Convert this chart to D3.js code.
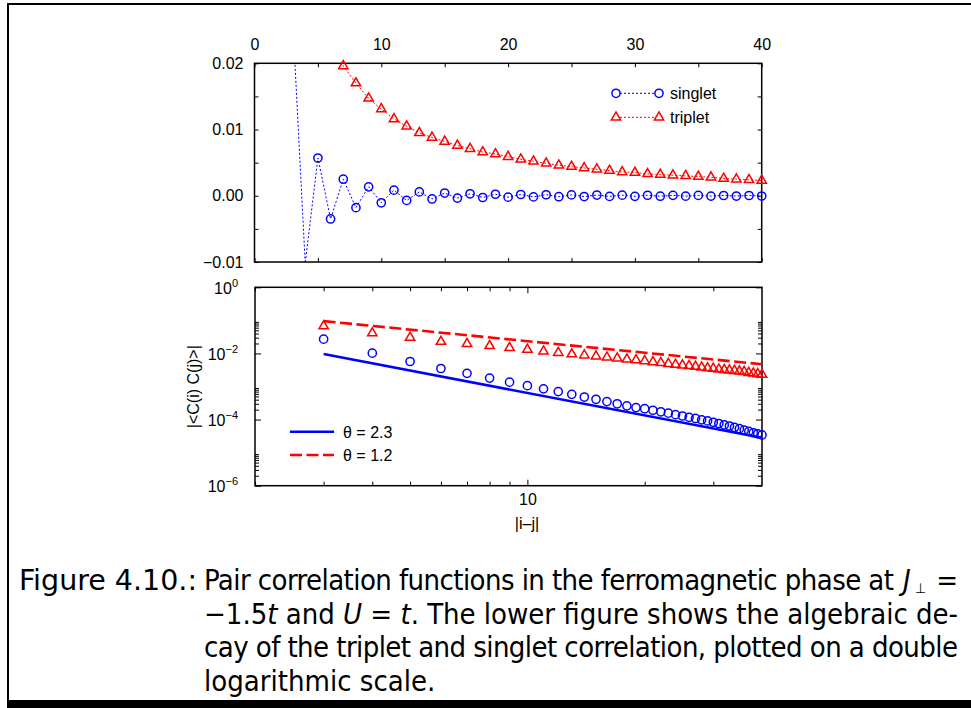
<!DOCTYPE html>
<html>
  <head>
    <meta charset="utf-8">
    <title>Pair correlation functions</title>
    <script src="https://d3js.org/d3.v7.min.js"></script>
    <style>
      body { margin: 0; background: #fff; }
      svg { display: block; }
      .plot text { font-family: "Liberation Sans", Arial, sans-serif; font-size: 16px; fill: #000; }
      .caption { font-family: "DejaVu Sans Condensed", "DejaVu Sans", sans-serif; font-stretch: condensed; font-size: 29px; white-space: pre; }
    </style>
  </head>
  <body>
    <svg></svg>
    <script>
      // distance |i-j|
      var dist = [3, 4, 5, 6, 7, 8, 9, 10, 11, 12, 13, 14, 15, 16, 17, 18, 19, 20, 21,
                  22, 23, 24, 25, 26, 27, 28, 29, 30, 31, 32, 33, 34, 35, 36, 37, 38, 39, 40];

      // singlet correlation (signed)
      var singlet = [0.0270, -0.0102, 0.0057, -0.0035, 0.0025, -0.0018, 0.00135, -0.00106,
                     0.00085, -0.00070, 0.00058, -0.00048, 0.00041, -0.00035, 0.00030, -0.00026,
                     0.00023, -0.000213, 0.000191, -0.000172, 0.000156, -0.000141, 0.000128,
                     -0.000117, 0.000108, -0.000098, 0.000091, -0.000083, 0.000076, -0.000069,
                     0.000064, -0.000058, 0.000053, -0.000048, 0.000044, -0.000040, 0.000037,
                     -0.0000342];

      // triplet correlation
      var triplet = [0.067, 0.041, 0.030, 0.0227, 0.0196, 0.0170, 0.0147, 0.0131, 0.0116,
                     0.0105, 0.0095, 0.0088, 0.0082, 0.0076, 0.0071, 0.0066, 0.0063, 0.0059,
                     0.0055, 0.0052, 0.0049, 0.0046, 0.0044, 0.0042, 0.0040, 0.0038, 0.0036,
                     0.0035, 0.0033, 0.0032, 0.0031, 0.0030, 0.0029, 0.0028, 0.0026, 0.0025,
                     0.0024, 0.0023];

      // power law guides, end points [x, y]
      var fit23 = [[3, 0.0096], [40, 0.000028]];
      var fit12 = [[3, 0.095], [40, 0.0047]];

      // ticks
      var topXTicks = [0, 5, 10, 15, 20, 25, 30, 35, 40];
      var topXLabels = [0, 10, 20, 30, 40];
      var topYTicks = [-0.01, -0.005, 0, 0.005, 0.01, 0.015, 0.02];
      var topYLabels = [-0.01, 0, 0.01, 0.02];
      var logXMajor = [10];
      var logXMinor = [2, 3, 4, 5, 6, 7, 8, 9, 20, 30];
      var logYMajor = [1e-6, 1e-4, 1e-2, 1];
      var logYMinor = [2e-6, 3e-6, 4e-6, 5e-6, 6e-6, 7e-6, 8e-6, 9e-6,
                       2e-4, 3e-4, 4e-4, 5e-4, 6e-4, 7e-4, 8e-4, 9e-4,
                       2e-2, 3e-2, 4e-2, 5e-2, 6e-2, 7e-2, 8e-2, 9e-2];

      var points = dist.map(function(d, i) {
        return { x: d, s: singlet[i], t: triplet[i] };
      });

      var svg = d3.select("svg")
        .attr("width", 971)
        .attr("height", 708);

      svg.append("rect").attr("width", 971).attr("height", 708).attr("fill", "#fff");

      // page frame
      svg.append("line").attr("x1", 7).attr("x2", 971).attr("y1", 4).attr("y2", 4)
        .attr("stroke", "#000").attr("stroke-width", 2);
      svg.append("line").attr("x1", 8).attr("x2", 8).attr("y1", 3).attr("y2", 702)
        .attr("stroke", "#000").attr("stroke-width", 2);
      svg.append("rect").attr("x", 7).attr("y", 700).attr("width", 964).attr("height", 8)
        .attr("fill", "#000");

      var plot = svg.append("g").attr("class", "plot");

      // ---------- upper panel ----------
      var tL = 254.5, tR = 761.7, tT = 63.3, tB = 262;
      var xLin = d3.scaleLinear().domain([0, 40]).range([tL, tR]);
      var yLin = d3.scaleLinear().domain([-0.01, 0.02]).range([tB, tT]);

      plot.append("clipPath").attr("id", "clipTop")
        .append("rect").attr("x", tL).attr("y", tT).attr("width", tR - tL).attr("height", tB - tT);

      function cleanAxis(g) {
        g.select(".domain").remove();
        g.selectAll(".tick line").attr("stroke", "#000");
      }

      plot.append("g").attr("transform", "translate(0," + tT + ")")
        .call(d3.axisTop(xLin).tickValues(topXTicks).tickSize(-4).tickPadding(13)
          .tickFormat(function(d) { return topXLabels.indexOf(d) >= 0 ? d : ""; }))
        .call(cleanAxis);
      plot.append("g").attr("transform", "translate(0," + tB + ")")
        .call(d3.axisBottom(xLin).tickValues(topXTicks).tickSize(-4).tickFormat(""))
        .call(cleanAxis);
      plot.append("g").attr("transform", "translate(" + tL + ",0)")
        .call(d3.axisLeft(yLin).tickValues(topYTicks).tickSize(-4).tickPadding(11)
          .tickFormat(function(d) { return topYLabels.indexOf(d) >= 0 ? d3.format(".2f")(d) : ""; }))
        .call(cleanAxis);
      plot.append("g").attr("transform", "translate(" + tR + ",0)")
        .call(d3.axisRight(yLin).tickValues(topYTicks).tickSize(-4).tickFormat(""))
        .call(cleanAxis);

      var linesTop = plot.append("g").attr("clip-path", "url(#clipTop)");
      var marksTop = plot.append("g");

      var lineS = d3.line().x(function(d) { return xLin(d.x); }).y(function(d) { return yLin(d.s); });
      var lineT = d3.line().x(function(d) { return xLin(d.x); }).y(function(d) { return yLin(d.t); });

      linesTop.append("path").datum(points).attr("d", lineS)
        .attr("fill", "none").attr("stroke", "#0000ff").attr("stroke-width", 1).attr("stroke-dasharray", "2,2");
      linesTop.append("path").datum(points).attr("d", lineT)
        .attr("fill", "none").attr("stroke", "#ff0000").attr("stroke-width", 1).attr("stroke-dasharray", "2,2");

      var tri = d3.symbol().type(d3.symbolTriangle).size(38);

      function circles(g, data, xf, yf) {
        g.selectAll("circle.m").data(data).enter().append("circle")
          .attr("class", "m")
          .attr("cx", xf).attr("cy", yf).attr("r", 4.1)
          .attr("fill", "none").attr("stroke", "#0000ff").attr("stroke-width", 1.5);
      }
      function triangles(g, data, xf, yf) {
        g.selectAll("path.m").data(data).enter().append("path")
          .attr("class", "m")
          .attr("d", tri)
          .attr("transform", function(d) { return "translate(" + xf(d) + "," + yf(d) + ")"; })
          .attr("fill", "none").attr("stroke", "#ff0000").attr("stroke-width", 1.5);
      }

      var visS = points.filter(function(d) { return d.s <= 0.02 && d.s >= -0.01; });
      var visT = points.filter(function(d) { return d.t <= 0.02 && d.t >= -0.01; });
      circles(marksTop, visS, function(d) { return xLin(d.x); }, function(d) { return yLin(d.s); });
      triangles(marksTop, visT, function(d) { return xLin(d.x); }, function(d) { return yLin(d.t); });

      plot.insert("rect", "g").attr("x", tL).attr("y", tT).attr("width", tR - tL).attr("height", tB - tT)
        .attr("fill", "none").attr("stroke", "#000").attr("stroke-width", 1.5);

      // upper legend
      var legTop = [
        { name: "singlet", y: 93.3, color: "#0000ff", kind: "c" },
        { name: "triplet", y: 117.3, color: "#ff0000", kind: "t" }
      ];
      legTop.forEach(function(l) {
        var g = plot.append("g");
        g.append("line").attr("x1", 616).attr("x2", 659).attr("y1", l.y).attr("y2", l.y)
          .attr("stroke", l.color).attr("stroke-width", 1).attr("stroke-dasharray", "2,2");
        [616, 659].forEach(function(x) {
          if (l.kind === "c") {
            g.append("circle").attr("cx", x).attr("cy", l.y).attr("r", 4.1)
              .attr("fill", "#fff").attr("stroke", l.color).attr("stroke-width", 1.5);
          } else {
            g.append("path").attr("d", tri).attr("transform", "translate(" + x + "," + l.y + ")")
              .attr("fill", "#fff").attr("stroke", l.color).attr("stroke-width", 1.5);
          }
        });
        g.append("text").attr("x", 670).attr("y", l.y + 5.5).text(l.name);
      });

      // ---------- lower panel ----------
      var bL = 255, bR = 762, bT = 287.3, bB = 485.7;
      var xLog = d3.scaleLog().domain([2, 40]).range([bL, bR]);
      var yLog = d3.scaleLog().domain([1e-6, 1]).range([bB, bT]);

      plot.append("clipPath").attr("id", "clipBot")
        .append("rect").attr("x", bL).attr("y", bT).attr("width", bR - bL).attr("height", bB - bT);

      plot.append("g").attr("transform", "translate(0," + bB + ")")
        .call(d3.axisBottom(xLog).tickValues(logXMajor).tickSize(-6).tickPadding(8).tickFormat(d3.format("d")))
        .call(cleanAxis);
      plot.append("g").attr("transform", "translate(0," + bB + ")")
        .call(d3.axisBottom(xLog).tickValues(logXMinor).tickSize(-4).tickFormat(""))
        .call(cleanAxis);
      plot.append("g").attr("transform", "translate(0," + bT + ")")
        .call(d3.axisTop(xLog).tickValues(logXMajor).tickSize(-6).tickFormat(""))
        .call(cleanAxis);
      plot.append("g").attr("transform", "translate(0," + bT + ")")
        .call(d3.axisTop(xLog).tickValues(logXMinor).tickSize(-4).tickFormat(""))
        .call(cleanAxis);

      var yMajAxis = plot.append("g").attr("transform", "translate(" + bL + ",0)")
        .call(d3.axisLeft(yLog).tickValues(logYMajor).tickSize(-6).tickPadding(17).tickFormat(""))
        .call(cleanAxis);
      yMajAxis.selectAll(".tick text").each(function(d) {
        var t = d3.select(this);
        var e = Math.round(Math.log10(d));
        t.attr("dy", "0.36em");
        t.append("tspan").text("10");
        t.append("tspan").attr("dy", "-7").style("font-size", "11px")
          .text(e < 0 ? "\u2212" + (-e) : e);
      });
      plot.append("g").attr("transform", "translate(" + bL + ",0)")
        .call(d3.axisLeft(yLog).tickValues(logYMinor).tickSize(-4).tickFormat(""))
        .call(cleanAxis);
      plot.append("g").attr("transform", "translate(" + bR + ",0)")
        .call(d3.axisRight(yLog).tickValues(logYMajor).tickSize(-6).tickFormat(""))
        .call(cleanAxis);
      plot.append("g").attr("transform", "translate(" + bR + ",0)")
        .call(d3.axisRight(yLog).tickValues(logYMinor).tickSize(-4).tickFormat(""))
        .call(cleanAxis);

      var dataBot = plot.append("g").attr("clip-path", "url(#clipBot)");

      var fitLine = d3.line().x(function(d) { return xLog(d[0]); }).y(function(d) { return yLog(d[1]); });
      dataBot.append("path").datum(fit23).attr("d", fitLine)
        .attr("fill", "none").attr("stroke", "#0000ff").attr("stroke-width", 2.6);
      dataBot.append("path").datum(fit12).attr("d", fitLine)
        .attr("fill", "none").attr("stroke", "#ff0000").attr("stroke-width", 2.6).attr("stroke-dasharray", "12,4.5");

      var marksBot = plot.append("g");
      circles(marksBot, points, function(d) { return xLog(d.x); }, function(d) { return yLog(Math.abs(d.s)); });
      triangles(marksBot, points, function(d) { return xLog(d.x); }, function(d) { return yLog(Math.abs(d.t)); });

      plot.insert("rect", "g").attr("x", bL).attr("y", bT).attr("width", bR - bL).attr("height", bB - bT)
        .attr("fill", "none").attr("stroke", "#000").attr("stroke-width", 1.5);

      // lower legend
      var legBot = [
        { name: "\u03b8 = 2.3", y: 431.7, color: "#0000ff", dash: null },
        { name: "\u03b8 = 1.2", y: 455, color: "#ff0000", dash: "12,4.5" }
      ];
      legBot.forEach(function(l) {
        plot.append("line").attr("x1", 290).attr("x2", 334).attr("y1", l.y).attr("y2", l.y)
          .attr("stroke", l.color).attr("stroke-width", 2.6).attr("stroke-dasharray", l.dash);
        plot.append("text").attr("x", 343).attr("y", l.y + 6).text(l.name);
      });

      // axis titles
      plot.append("text").attr("x", 527).attr("y", 529).attr("text-anchor", "middle").text("|i\u2013j|");
      plot.append("text").attr("transform", "translate(199,386.7) rotate(-90)")
        .attr("text-anchor", "middle").text("|<C(i) C(j)>|");

      // ---------- caption ----------
      var cap = svg.append("g").attr("class", "caption");
      cap.append("text").attr("x", 19).attr("y", 590).attr("textLength", 178)
        .attr("lengthAdjust", "spacingAndGlyphs").text("Figure 4.10.:");

      cap.append("text").attr("x", 204).attr("y", 590)
        .attr("textLength", 690).attr("lengthAdjust", "spacing")
        .text("Pair correlation functions in the ferromagnetic phase at");
      cap.append("text").attr("x", 903).attr("y", 590).style("font-style", "italic").text("J");
      cap.append("text").attr("x", 915).attr("y", 593).style("font-size", "14px").text("\u22a5");
      cap.append("text").attr("x", 958).attr("y", 590).attr("text-anchor", "end").text("=");

      var l2 = cap.append("text").attr("x", 204).attr("y", 623.5)
        .attr("textLength", 754).attr("lengthAdjust", "spacing");
      l2.append("tspan").text("\u22121.5");
      l2.append("tspan").style("font-style", "italic").text("t");
      l2.append("tspan").text(" and ");
      l2.append("tspan").style("font-style", "italic").text("U");
      l2.append("tspan").text(" = ");
      l2.append("tspan").style("font-style", "italic").text("t");
      l2.append("tspan").text(".  The lower figure shows the algebraic de-");

      cap.append("text").attr("x", 204).attr("y", 657)
        .attr("textLength", 754).attr("lengthAdjust", "spacing")
        .text("cay of the triplet and singlet correlation, plotted on a double");

      cap.append("text").attr("x", 204).attr("y", 690.5).text("logarithmic scale.");
    </script>
  </body>
</html>
